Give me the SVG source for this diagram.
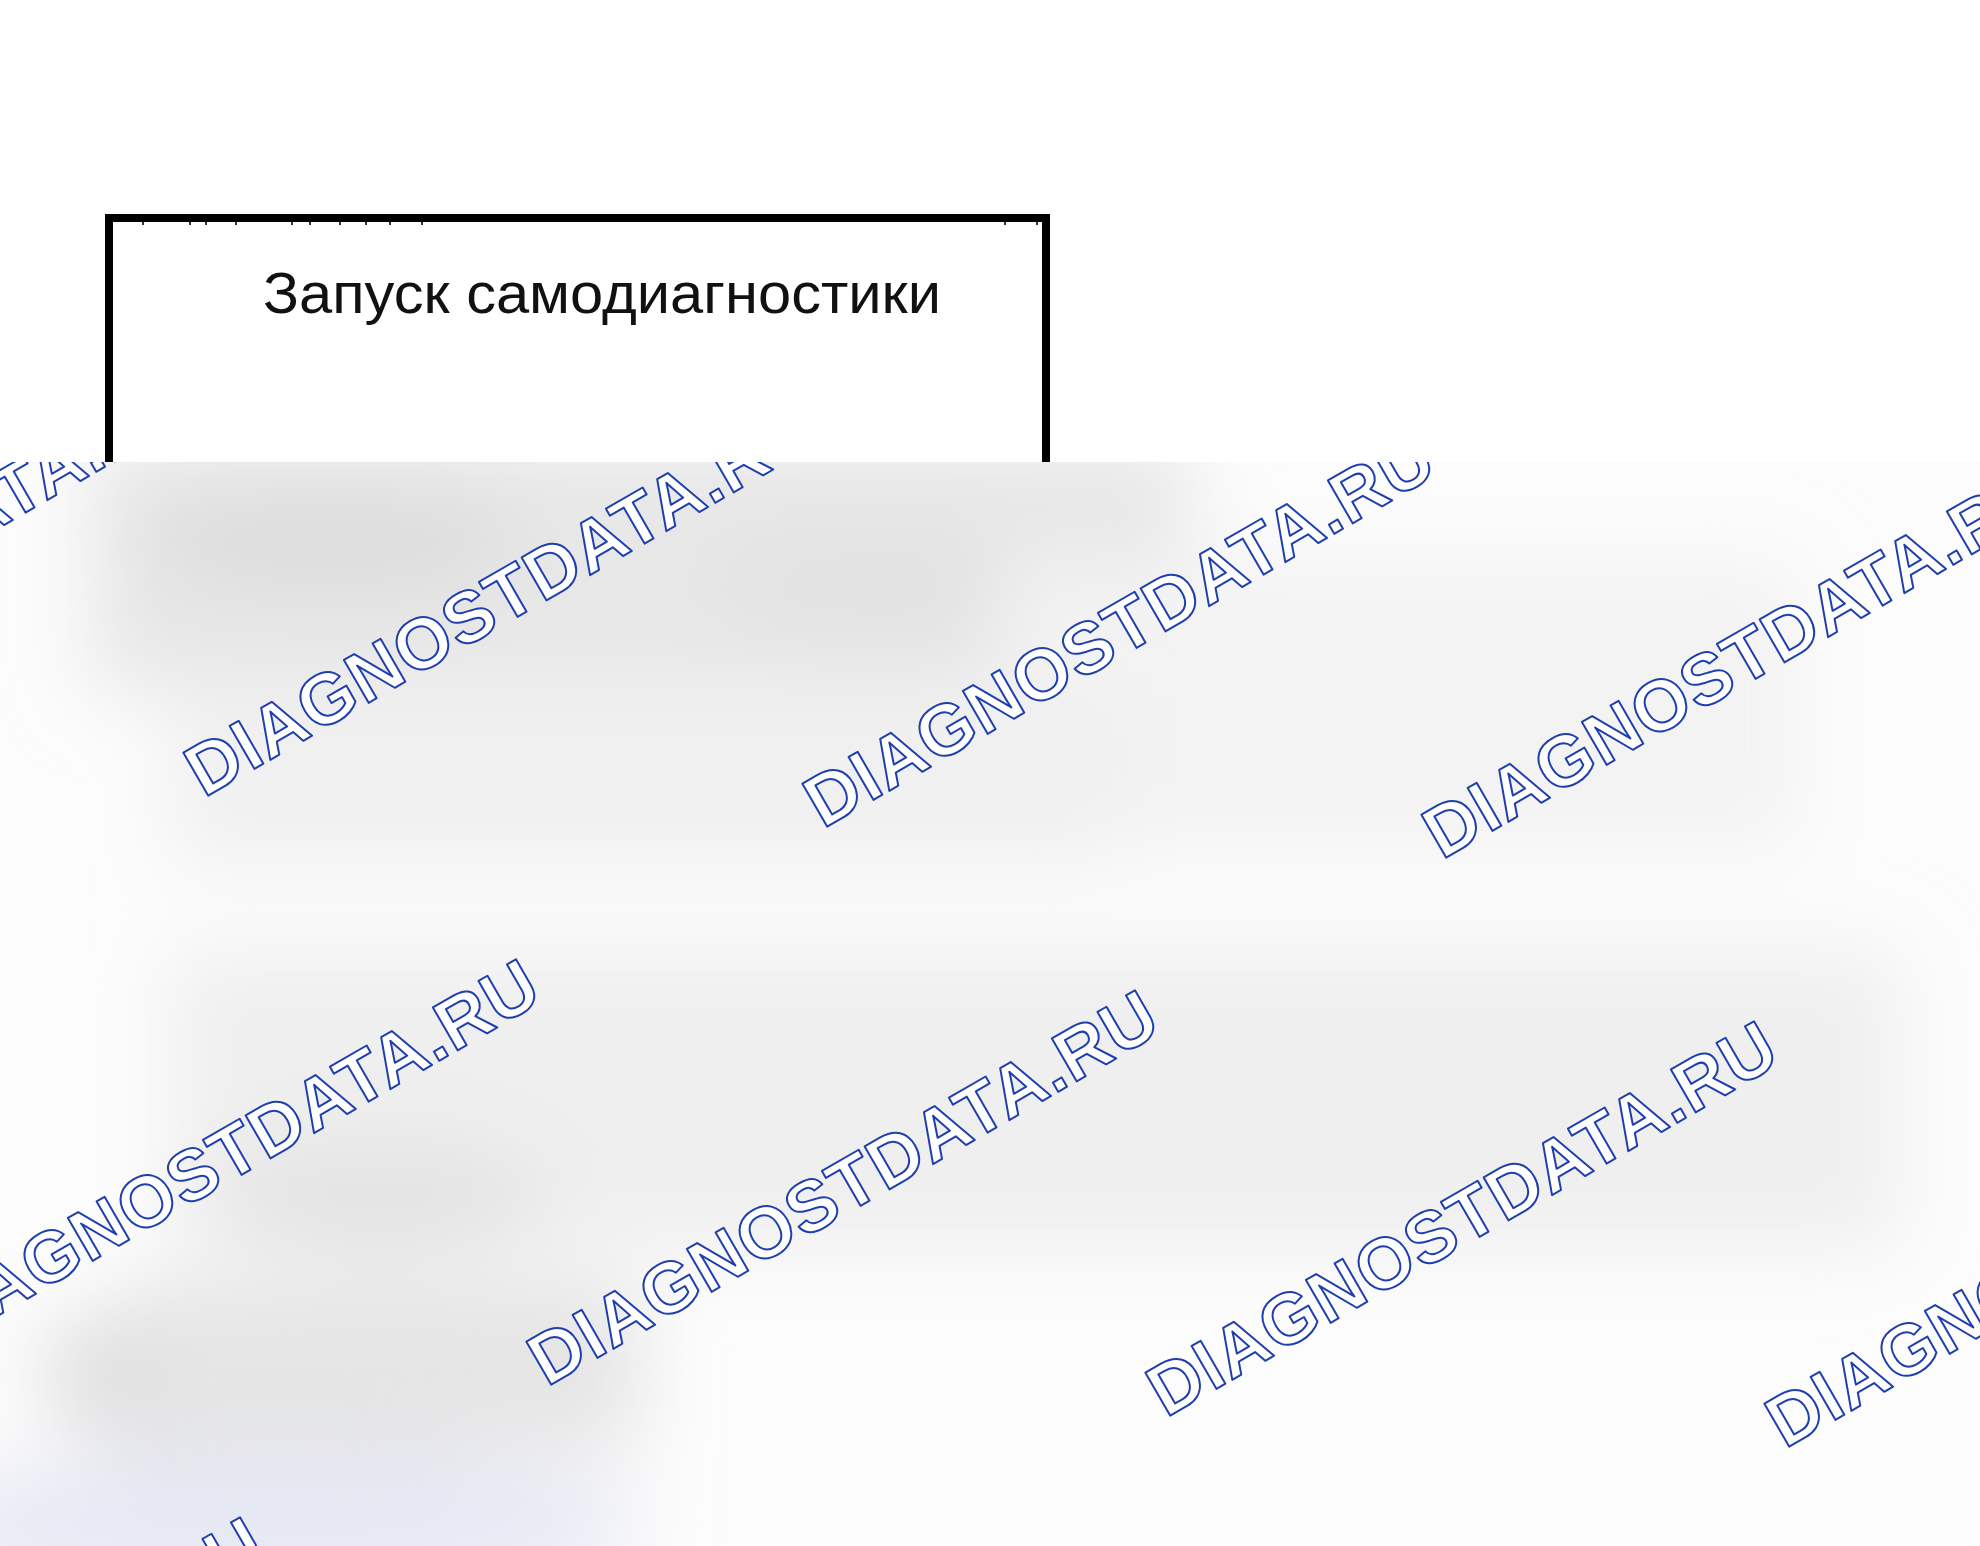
<svg xmlns="http://www.w3.org/2000/svg" width="1980" height="1546" viewBox="0 0 1980 1546">
  <style>
    .title { font-family: "Liberation Sans", Arial, sans-serif; font-size: 58px; fill: #111; }
    .wm { font-family: "Liberation Sans", Arial, sans-serif; font-weight: bold; font-size: 72px; fill: #ffffff; stroke: #1f3fae; stroke-width: 2; stroke-linejoin: round; }
  </style>
  <defs>
    <filter id="blur" x="-20%" y="-20%" width="140%" height="140%">
      <feGaussianBlur stdDeviation="40"/>
    </filter>
    <clipPath id="lower">
      <rect x="0" y="462" width="1980" height="1084"/>
    </clipPath>
  </defs>

  <rect x="0" y="0" width="1980" height="1546" fill="#ffffff"/>

  <g id="node-start">
    <rect x="109" y="218" width="937" height="320" fill="#ffffff" stroke="#000000" stroke-width="8"/>
    <path d="M143 222v3M190 222v3M206 222v3M236 222v3M292 222v3M310 222v3M340 222v3M366 222v3M390 222v3M422 222v3M1005 222v3M1037 222v3" stroke="#333" stroke-width="2"/>
    <text class="title" x="263" y="313" textLength="678" lengthAdjust="spacingAndGlyphs">Запуск самодиагностики</text>
  </g>

  <g id="overlay" clip-path="url(#lower)">
    <rect x="0" y="462" width="1980" height="1084" fill="#fcfcfc"/>
    <g filter="url(#blur)">
      <rect x="90" y="440" width="1100" height="250" fill="#e7e7e7"/>
      <ellipse cx="330" cy="540" rx="190" ry="55" fill="#dddddd"/>
      <ellipse cx="880" cy="585" rx="170" ry="45" fill="#e1e1e1"/>
      <rect x="1000" y="560" width="800" height="290" fill="#f3f3f3"/>
      <rect x="170" y="700" width="950" height="165" fill="#f0f0f0"/>
      <rect x="170" y="950" width="1730" height="300" fill="#efefef"/>
      <ellipse cx="380" cy="1200" rx="170" ry="60" fill="#e3e3e3"/>
      <ellipse cx="290" cy="1375" rx="250" ry="95" fill="#dedede"/>
      <rect x="140" y="1280" width="500" height="170" fill="#e5e5e5"/>
      <ellipse cx="280" cy="1525" rx="360" ry="75" fill="#e6e8f4"/>
    </g>
  </g>

  <g id="watermarks" clip-path="url(#lower)">
    <text class="wm" transform="translate(-415,767) rotate(-30)" textLength="712" lengthAdjust="spacing">DIAGNOSTDATA.RU</text>
    <text class="wm" transform="translate(204,798) rotate(-30)" textLength="712" lengthAdjust="spacing">DIAGNOSTDATA.RU</text>
    <text class="wm" transform="translate(823,829) rotate(-30)" textLength="712" lengthAdjust="spacing">DIAGNOSTDATA.RU</text>
    <text class="wm" transform="translate(1442,860) rotate(-30)" textLength="712" lengthAdjust="spacing">DIAGNOSTDATA.RU</text>
    <text class="wm" transform="translate(-72,1356) rotate(-30)" textLength="712" lengthAdjust="spacing">DIAGNOSTDATA.RU</text>
    <text class="wm" transform="translate(547,1387) rotate(-30)" textLength="712" lengthAdjust="spacing">DIAGNOSTDATA.RU</text>
    <text class="wm" transform="translate(1166,1418) rotate(-30)" textLength="712" lengthAdjust="spacing">DIAGNOSTDATA.RU</text>
    <text class="wm" transform="translate(1785,1449) rotate(-30)" textLength="712" lengthAdjust="spacing">DIAGNOSTDATA.RU</text>
    <text class="wm" transform="translate(-348,1914) rotate(-30)" textLength="712" lengthAdjust="spacing">DIAGNOSTDATA.RU</text>
  </g>
</svg>
